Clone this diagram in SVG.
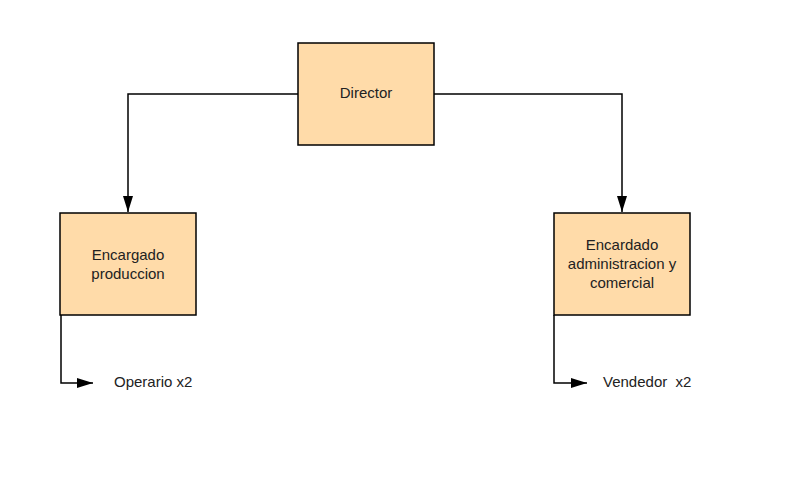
<svg xmlns="http://www.w3.org/2000/svg" width="800" height="485" viewBox="0 0 800 485">
<style>
.box{fill:#FFDBA9;stroke:#000;stroke-width:1.5}
.t{font-family:"Liberation Sans",Arial,sans-serif;font-size:15px;fill:#222}
.c{fill:none;stroke:#000;stroke-width:1.5}
</style>
<defs>
<marker id="b" viewBox="0 0 16 11" refX="16" refY="5.5" markerWidth="16" markerHeight="11" markerUnits="userSpaceOnUse" orient="auto">
<path d="M0,0.5 L16,5.5 L0,10.5 z" fill="#000"/>
</marker>
</defs>
<rect width="800" height="485" fill="#fff"/>
<g id="connectors">
<path class="c" d="M298,94 H128 V212" marker-end="url(#b)"/>
<path class="c" d="M434,94 H622 V212" marker-end="url(#b)"/>
<path class="c" d="M61,315 V383 H93" marker-end="url(#b)"/>
<path class="c" d="M554,315 V383 H587" marker-end="url(#b)"/>
</g>
<g id="director">
<rect class="box" x="298" y="43" width="136" height="102"/>
<text class="t" x="366" y="98" text-anchor="middle">Director</text>
</g>
<g id="produccion">
<rect class="box" x="60" y="213" width="136" height="102"/>
<text class="t" x="128" y="260" text-anchor="middle">Encargado</text>
<text class="t" x="128" y="279" text-anchor="middle">produccion</text>
</g>
<g id="administracion">
<rect class="box" x="554" y="213" width="136" height="102"/>
<text class="t" x="622" y="250" text-anchor="middle">Encardado</text>
<text class="t" x="622" y="269" text-anchor="middle">administracion y</text>
<text class="t" x="622" y="288" text-anchor="middle">comercial</text>
</g>
<g id="operario">
<text class="t" x="114" y="387">Operario x2</text>
</g>
<g id="vendedor">
<text class="t" x="603" y="387" xml:space="preserve">Vendedor  x2</text>
</g>
</svg>
